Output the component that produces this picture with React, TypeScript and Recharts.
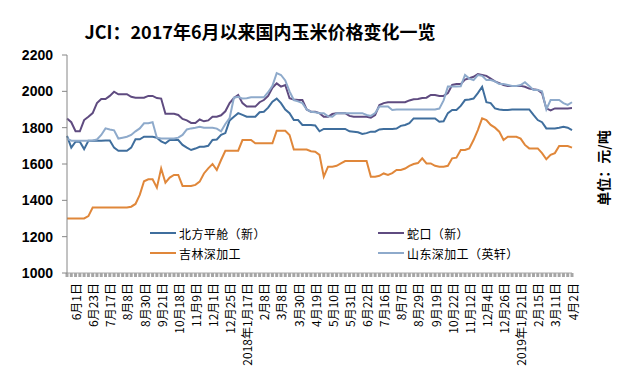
import { LineChart, Line, XAxis, YAxis } from "recharts";

// 2017-06 .. 2019-04, one point about every 4 trading days
const tickLabels = [
  "6月1日", "6月23日", "7月17日", "8月8日", "8月30日", "9月21日", "10月18日", "11月9日",
  "12月1日", "12月25日", "2018年1月17日", "2月8日", "3月8日", "3月30日", "4月19日", "5月10日",
  "5月31日", "6月22日", "7月16日", "8月7日", "8月29日", "9月19日", "10月22日", "11月12日",
  "12月4日", "12月26日", "2019年1月21日", "2月15日", "3月11日", "4月2日",
];

const beifang = [
  1755, 1690, 1723, 1723, 1682, 1728, 1728, 1728, 1728, 1730,
  1730, 1690, 1673, 1673, 1673, 1690, 1736, 1736, 1750,
  1750, 1750, 1745, 1725, 1714, 1732, 1732, 1732, 1705, 1690,
  1677, 1685, 1695, 1695, 1700, 1732, 1735, 1760, 1770, 1840,
  1860, 1880, 1870, 1860, 1860, 1860, 1885, 1888, 1910,
  1943, 1960, 1935, 1900, 1880, 1842, 1842, 1815, 1815, 1815,
  1812, 1780, 1793, 1793, 1793, 1793, 1793, 1793, 1780, 1778,
  1775, 1765, 1770, 1778, 1778, 1790, 1793, 1793, 1793, 1795,
  1810, 1815, 1825, 1851, 1851, 1851, 1851, 1851, 1851,
  1833, 1835, 1880, 1897, 1897, 1920, 1952, 1955, 1960, 1990,
  2025, 1940, 1935, 1906, 1900, 1897, 1897, 1900, 1900, 1900,
  1900, 1900, 1870, 1842, 1830, 1796, 1796, 1796, 1800,
  1805, 1800, 1787,
];

const shekou = [
  1850, 1830, 1780, 1780, 1842, 1860, 1880, 1935, 1958, 1958,
  1975, 1998, 1984, 1984, 1984, 1970, 1965, 1965, 1965,
  1975, 1975, 1963, 1960, 1877, 1877, 1877, 1870, 1848, 1840,
  1826, 1826, 1845, 1835, 1840, 1860, 1860, 1868, 1890, 1935,
  1963, 1980, 1935, 1916, 1916, 1916, 1940, 1952, 1975,
  2020, 2044, 2026, 2035, 1962, 1955, 1952, 1952, 1900, 1888,
  1888, 1880, 1860, 1860, 1875, 1880, 1880, 1880, 1865, 1860,
  1860, 1860, 1860, 1855, 1870, 1925, 1935, 1940, 1940, 1940,
  1940, 1940, 1950, 1956, 1958, 1963, 1965, 1980, 1980,
  1975, 1975, 1990, 2035, 2040, 2040, 2065, 2072, 2080, 2095,
  2090, 2085, 2070, 2055, 2045, 2035, 2030, 2030, 2030, 2030,
  2025, 2015, 2011, 2008, 1990, 1906, 1895, 1906, 1906,
  1906, 1906, 1908,
];

const jilin = [
  1300, 1300, 1300, 1300, 1300, 1313, 1360, 1360, 1360, 1360,
  1360, 1360, 1360, 1360, 1360, 1365, 1380, 1430, 1505,
  1516, 1516, 1470, 1576, 1497, 1525, 1540, 1540, 1479, 1479,
  1479, 1485, 1503, 1548, 1576, 1600, 1567, 1622, 1673, 1673,
  1673, 1673, 1732, 1732, 1732, 1714, 1714, 1714, 1714,
  1714, 1783, 1783, 1783, 1760, 1680, 1680, 1680, 1680, 1670,
  1668, 1650, 1530, 1585, 1585, 1590, 1603, 1616, 1616, 1616,
  1616, 1616, 1616, 1530, 1530, 1535, 1548, 1540, 1550, 1567,
  1567, 1575, 1590, 1600, 1605, 1631, 1603, 1603, 1590,
  1585, 1585, 1590, 1631, 1635, 1677, 1677, 1685, 1732, 1787,
  1851, 1842, 1815, 1800, 1778, 1732, 1750, 1750, 1750, 1740,
  1705, 1686, 1686, 1686, 1660, 1626, 1650, 1660, 1699,
  1699, 1699, 1690,
];

const shandong = [
  1740, 1728, 1728, 1728, 1728, 1728, 1730, 1735, 1760, 1796,
  1790, 1785, 1740, 1745, 1750, 1760, 1780, 1796, 1824,
  1824, 1830, 1745, 1740, 1740, 1740, 1740, 1745, 1760, 1790,
  1796, 1800, 1805, 1800, 1800, 1800, 1795, 1780, 1820, 1853,
  1965, 1970, 1960, 1962, 1967, 1967, 1967, 1967, 1995,
  2030, 2100, 2090, 2060, 2000, 1952, 1945, 1935, 1900, 1888,
  1885, 1880, 1880, 1862, 1860, 1880, 1880, 1880, 1880, 1880,
  1880, 1880, 1870, 1865, 1880, 1916, 1916, 1916, 1897, 1900,
  1900, 1900, 1900, 1900, 1900, 1900, 1900, 1900, 1900,
  1905, 1950, 2026, 2026, 2026, 2028, 2090, 2070, 2062, 2090,
  2085, 2062, 2062, 2055, 2040, 2040, 2035, 2030, 2030, 2035,
  2050, 2030, 2007, 2007, 2000, 1900, 1952, 1952, 1952,
  1935, 1925, 1940,
];

const yTicks = [1000, 1200, 1400, 1600, 1800, 2000, 2200];

const series = [
  { key: "beifang", name: "北方平舱（新）", color: "#3f6e9d" },
  { key: "shekou", name: "蛇口（新）", color: "#5f4b80" },
  { key: "jilin", name: "吉林深加工", color: "#e0873a" },
  { key: "shandong", name: "山东深加工（英轩）", color: "#8eaacb" },
];

const data = beifang.map((v, i) => ({
  i,
  beifang: v,
  shekou: shekou[i],
  jilin: jilin[i],
  shandong: shandong[i],
}));
const xTicks = data.map((d) => d.i);

const CJK = '"Noto Sans CJK SC", "Noto Sans", sans-serif';

function DateTick({ x, y, payload }: any) {
  const k = (payload.value - 2) / 4;
  if (!Number.isInteger(k) || k < 0 || k >= tickLabels.length) return <g />;
  return (
    <text
      transform={`translate(${x},${y + 4}) rotate(-90)`}
      textAnchor="end"
      dominantBaseline="central"
      fontSize={12}
      fontFamily={CJK}
      fill="#000"
    >
      {tickLabels[k]}
    </text>
  );
}

function LegendBox() {
  return (
    <div
      style={{
        position: "absolute", left: 150, top: 223, display: "grid",
        gridTemplateColumns: "228px 200px", fontFamily: CJK, fontSize: 12,
        letterSpacing: 0.4, color: "#000",
      }}
    >
      {series.map((s) => (
        <div key={s.key} style={{ display: "flex", alignItems: "center", height: 20 }}>
          <svg width={26} height={4} style={{ marginRight: 3 }}>
            <line x1={0} y1={2} x2={26} y2={2} stroke={s.color} strokeWidth={2} />
          </svg>
          {s.name}
        </div>
      ))}
    </div>
  );
}

export default function App() {
  return (
    <div style={{ position: "absolute", left: 0, top: 0, width: 621, height: 375, background: "#fff" }}>
      <LineChart width={621} height={375} data={data} margin={{ top: 55, right: 49, left: 0, bottom: 0 }}>
        <XAxis
          type="number"
          dataKey="i"
          domain={[0, data.length - 1]}
          ticks={xTicks}
          interval={0}
          tick={DateTick}
          tickSize={4}
          tickLine={{ stroke: "#a6a6a6", strokeWidth: 3 }}
          axisLine={{ stroke: "#a6a6a6" }}
          height={102}
        />
        <YAxis
          domain={[1000, 2200]}
          ticks={yTicks}
          interval={0}
          width={67}
          tickSize={5}
          tickMargin={9}
          tick={{ fill: "#000", fontSize: 14, fontWeight: 700, fontFamily: '"Liberation Sans", Arial, sans-serif' }}
          tickLine={{ stroke: "#868686" }}
          axisLine={{ stroke: "#868686" }}
        />
        {series.map((s) => (
          <Line
            key={s.key}
            type="linear"
            dataKey={s.key}
            name={s.name}
            stroke={s.color}
            strokeWidth={2}
            dot={false}
            isAnimationActive={false}
          />
        ))}
      </LineChart>
      <div
        style={{
          position: "absolute", left: 0, top: 22, width: 520, textAlign: "center",
          fontFamily: CJK, fontWeight: 700, fontSize: 18, lineHeight: "18px", color: "#000",
        }}
      >
        JCI：2017年6月以来国内玉米价格变化一览
      </div>
      <div
        style={{
          position: "absolute", left: 603, top: 168, transform: "translate(-50%, -50%) rotate(-90deg)",
          whiteSpace: "nowrap", fontFamily: CJK, fontWeight: 700, fontSize: 14, color: "#000",
        }}
      >
        单位：元/吨
      </div>
      <LegendBox />
    </div>
  );
}
